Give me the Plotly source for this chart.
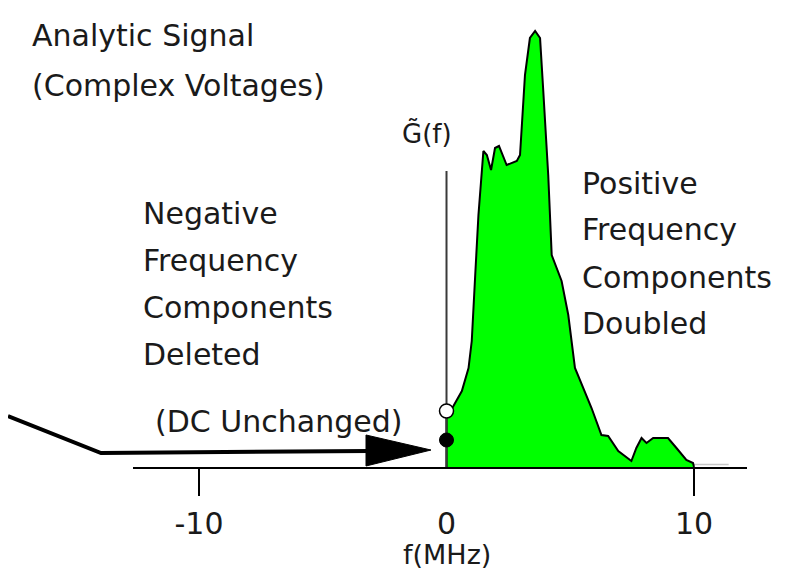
import plotly.graph_objects as go

# ---------------- data ----------------
freq_mhz = [0, 0, 0.28, 0.62, 0.89, 1.02, 1.16, 1.29, 1.49, 1.63, 1.80, 1.96, 2.12,
            2.43, 2.84, 2.97, 3.17, 3.37, 3.58, 3.78, 3.91, 4.11, 4.25, 4.65,
            4.92, 5.19, 5.86, 6.26, 6.53, 6.94, 7.47, 7.67, 7.88, 8.08, 8.35,
            8.95, 9.29, 9.69, 9.96, 10]
amplitude = [0, 0.50, 0.61, 0.76, 0.99, 1.26, 1.92, 2.52, 3.16, 3.12, 2.97, 3.19, 3.21,
             3.02, 3.06, 3.12, 3.92, 4.29, 4.36, 4.29, 3.76, 2.92, 2.12, 1.86,
             1.52, 0.99, 0.59, 0.32, 0.31, 0.16, 0.06, 0.19, 0.29, 0.24, 0.29,
             0.29, 0.19, 0.07, 0.04, 0]
tail_freq = [10, 11.4]      # faint residual trace beyond 10 MHz
tail_amp = [0.025, 0.025]
dc_before = 0.56      # hollow circle
dc_after = 0.27       # filled circle (DC unchanged)
g_axis_top = 2.96     # height of the G~(f) axis line
tick_values = [-10, 0, 10]
tick_labels = ["-10", "0", "10"]
major_ticks = [-10, 10]
x_title = "f(MHz)"

X_RANGE = [-12.667, 12.141]
Y_RANGE = [0, 4.59]

W, H = 786, 572
L, R, T, B = 125, 47, 0, 113
PW, PH = W - L - R, H - T - B

def px(xp, yp):
    """pixel position -> paper coordinates"""
    return (xp - L) / PW, (H - B - yp) / PH

FONT = "DejaVu Sans"
TXT = "#1a1a1a"

fig = go.Figure()

fig.add_trace(go.Scatter(
    x=tail_freq, y=tail_amp, mode="lines", line=dict(color="#c8c8c8", width=1.5),
    showlegend=False, hoverinfo="skip"))

fig.add_trace(go.Scatter(
    x=freq_mhz, y=amplitude, mode="lines", fill="tozeroy",
    fillcolor="#00ff00", line=dict(color="black", width=2),
    cliponaxis=False, hoverinfo="skip", showlegend=False))

fig.add_trace(go.Scatter(
    x=[0, 0], y=[0, g_axis_top], mode="lines",
    line=dict(color="#3a3a3a", width=2), showlegend=False, hoverinfo="skip"))

fig.add_trace(go.Scatter(
    x=[0], y=[dc_before], mode="markers", cliponaxis=False,
    marker=dict(size=14, color="white", line=dict(color="black", width=1.5)),
    showlegend=False))
fig.add_trace(go.Scatter(
    x=[0], y=[dc_after], mode="markers", cliponaxis=False,
    marker=dict(size=14, color="black", line=dict(color="black", width=1)),
    showlegend=False))

# invisible trace to anchor the tick-mark axis
fig.add_trace(go.Scatter(x=major_ticks, y=[0, 0], xaxis="x2", mode="markers",
                         marker=dict(opacity=0), showlegend=False, hoverinfo="skip"))

# arrow (bent line + big triangular head)
pts = [px(0, 408), px(93, 445), px(362, 443)]
path = "M " + " L ".join(f"{a:.4f},{b:.4f}" for a, b in pts)
fig.add_shape(type="path", path=path, xref="paper", yref="paper",
              line=dict(color="black", width=4))
tri = [px(358, 427), px(423, 442), px(358, 458)]
path2 = "M " + " L ".join(f"{a:.4f},{b:.4f}" for a, b in tri) + " Z"
fig.add_shape(type="path", path=path2, xref="paper", yref="paper",
              line=dict(color="black", width=1), fillcolor="black")

texts = [
    ("Analytic Signal", 22, 27),
    ("(Complex Voltages)", 22, 78),
    ("Negative", 133, 205),
    ("Frequency", 133, 252),
    ("Components", 133, 299),
    ("Deleted", 133, 346),
    ("Positive", 572, 175),
    ("Frequency", 572, 222),
    ("Components", 572, 269),
    ("Doubled", 572, 316),
    ("(DC Unchanged)", 145, 413),
]
for t, x0, y0 in texts:
    xp, yp = px(x0, y0)
    fig.add_annotation(text=t, x=xp, y=yp, xref="paper", yref="paper",
                       xanchor="left", yanchor="middle", showarrow=False,
                       font=dict(family=FONT, size=30, color=TXT))

xp, yp = px(446, 125)
fig.add_annotation(text="G\u0303(f)", x=xp, y=yp, xref="paper", yref="paper",
                   xanchor="right", yanchor="middle", showarrow=False,
                   font=dict(family=FONT, size=26, color=TXT))

# axis title, placed under the 0 tick
_, yp = px(0, 546)
fig.add_annotation(text=x_title, x=0, xref="x", y=yp, yref="paper",
                   xanchor="center", yanchor="middle", showarrow=False,
                   font=dict(family=FONT, size=27, color=TXT))

fig.update_layout(
    width=W, height=H, margin=dict(l=L, r=R, t=T, b=B),
    paper_bgcolor="white", plot_bgcolor="white", showlegend=False,
    font=dict(family=FONT, size=30, color=TXT),
    xaxis=dict(range=X_RANGE, tickvals=tick_values, ticktext=tick_labels,
               ticks="outside", ticklen=29, tickcolor="rgba(0,0,0,0)",
               showline=True, linecolor="black", linewidth=2,
               showgrid=False, zeroline=False, fixedrange=True,
               tickfont=dict(family=FONT, size=30, color=TXT)),
    xaxis2=dict(range=X_RANGE, overlaying="x", anchor="y", side="bottom",
                tickvals=major_ticks, ticks="outside", ticklen=28, tickwidth=2,
                tickcolor="black", showticklabels=False, showline=False,
                showgrid=False, zeroline=False),
    yaxis=dict(range=Y_RANGE, visible=False, fixedrange=True),
)

fig.write_html("out.html")
